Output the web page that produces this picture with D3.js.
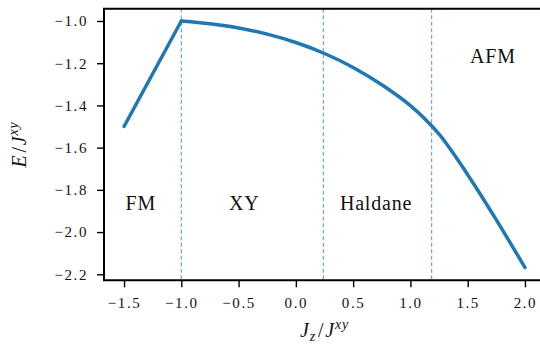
<!DOCTYPE html>
<html>
<head>
<meta charset="utf-8">
<script src="https://cdn.jsdelivr.net/npm/d3@7"></script>
<style>
  body { margin: 0; background: #fff; }
  svg text { font-family: "Liberation Serif", "DejaVu Serif", serif; fill: #111; }
</style>
</head>
<body>
<div id="chart"></div>
<script>
// data
const fmJz = [-1.5, -1.0]
const fmE = [-1.5, -1.0]
const xyJz = [-1.0, -0.75, -0.5, -0.25, 0.0, 0.25, 0.5, 0.75, 1.0, 1.125, 1.25, 1.5, 1.75, 2.0]
const xyE = [-1.0, -1.013, -1.033, -1.062, -1.102, -1.154, -1.22, -1.302, -1.401, -1.463, -1.536, -1.728, -1.942, -2.168]
const transitions = [-1.0, 0.24, 1.185]
const phases = ["FM", "XY", "Haldane", "AFM"]
const xTicks = [-1.5, -1.0, -0.5, 0.0, 0.5, 1.0, 1.5, 2.0]
const yTicks = [-1.0, -1.2, -1.4, -1.6, -1.8, -2.0, -2.2]

// layout
const W = 540, H = 345
const axLeft = 104, axRight = 545, axTop = 8.65, axBottom = 280.3
const phaseAt = [[-1.354, -1.896], [-0.451, -1.896], [0.70, -1.896], [1.72, -1.199]]
const blue = "#1f77b4"
const serif = '"Liberation Serif", "DejaVu Serif", serif'

const svg = d3.select("#chart").append("svg")
    .attr("width", W)
    .attr("height", H)

const x = d3.scaleLinear().domain([-1.675, 2.175]).range([axLeft, axRight])
const y = d3.scaleLinear().domain([-2.2285, -0.9415]).range([axBottom, axTop])

// transition lines
svg.append("g").selectAll("line")
    .data(transitions)
    .join("line")
    .attr("x1", d => x(d)).attr("x2", d => x(d))
    .attr("y1", axTop).attr("y2", axBottom)
    .attr("stroke", "#6fa9d6")
    .attr("stroke-width", 1.2)
    .attr("stroke-dasharray", "4,2.5")

// energy curve
const fm = fmJz.map((d, i) => [d, fmE[i]])
const xy = xyJz.map((d, i) => [d, xyE[i]])

svg.append("path")
    .datum(fm)
    .attr("fill", "none")
    .attr("stroke", blue)
    .attr("stroke-width", 3.5)
    .attr("stroke-linecap", "round")
    .attr("d", d3.line().x(d => x(d[0])).y(d => y(d[1])))

svg.append("path")
    .datum(xy)
    .attr("fill", "none")
    .attr("stroke", blue)
    .attr("stroke-width", 3.5)
    .attr("stroke-linecap", "round")
    .attr("d", d3.line().x(d => x(d[0])).y(d => y(d[1])).curve(d3.curveMonotoneX))

// phase labels
svg.append("g").selectAll("text")
    .data(phases)
    .join("text")
    .attr("x", (d, i) => x(phaseAt[i][0]))
    .attr("y", (d, i) => y(phaseAt[i][1]))
    .attr("text-anchor", "middle")
    .style("font-family", serif)
    .style("font-size", "20px")
    .attr("letter-spacing", 0.8)
    .text(d => d)

// axes
const fmt = d3.format(".1f")
const xAxis = svg.append("g")
    .attr("transform", `translate(0,${axBottom})`)
    .call(d3.axisBottom(x).tickValues(xTicks).tickFormat(fmt).tickSize(7).tickPadding(7))
const yAxis = svg.append("g")
    .attr("transform", `translate(${axLeft},0)`)
    .call(d3.axisLeft(y).tickValues(yTicks).tickFormat(fmt).tickSize(7).tickPadding(9))

for (const g of [xAxis, yAxis]) {
    g.select(".domain").remove()
    g.selectAll(".tick line").attr("stroke", "#000").attr("stroke-width", 1.4)
    g.selectAll(".tick text")
        .style("font-family", serif)
        .style("font-size", "15px")
        .attr("letter-spacing", 1.6)
        .attr("fill", "#222")
}
xAxis.selectAll(".tick text").attr("dy", "0.9em")

// spines (right one falls outside the picture)
svg.append("path")
    .attr("d", `M${axRight},${axTop}H${axLeft}V${axBottom}H${axRight}`)
    .attr("fill", "none")
    .attr("stroke", "#000")
    .attr("stroke-width", 2)

// axis labels
const xl = svg.append("text")
    .attr("x", (axLeft + axRight) / 2)
    .attr("y", 337)
    .attr("text-anchor", "middle")
    .style("font-family", serif)
    .style("font-size", "20px")
    .attr("letter-spacing", 0.8)
xl.append("tspan").attr("font-style", "italic").text("J")
xl.append("tspan").attr("font-style", "italic").style("font-size", "14px").attr("dy", 4).text("z")
xl.append("tspan").attr("dy", -4).attr("dx", 2).text("/")
xl.append("tspan").attr("font-style", "italic").attr("dx", 1).text("J")
xl.append("tspan").attr("font-style", "italic").style("font-size", "14px").attr("dy", -8).text("xy")

const yl = svg.append("text")
    .attr("transform", `translate(26,${(axTop + axBottom) / 2}) rotate(-90)`)
    .attr("text-anchor", "middle")
    .style("font-family", serif)
    .style("font-size", "20px")
    .attr("letter-spacing", 0.8)
yl.append("tspan").attr("font-style", "italic").text("E")
yl.append("tspan").attr("dx", 2).text("/")
yl.append("tspan").attr("font-style", "italic").attr("dx", 1).text("J")
yl.append("tspan").attr("font-style", "italic").style("font-size", "14px").attr("dy", -8).text("xy")
</script>
</body>
</html>
